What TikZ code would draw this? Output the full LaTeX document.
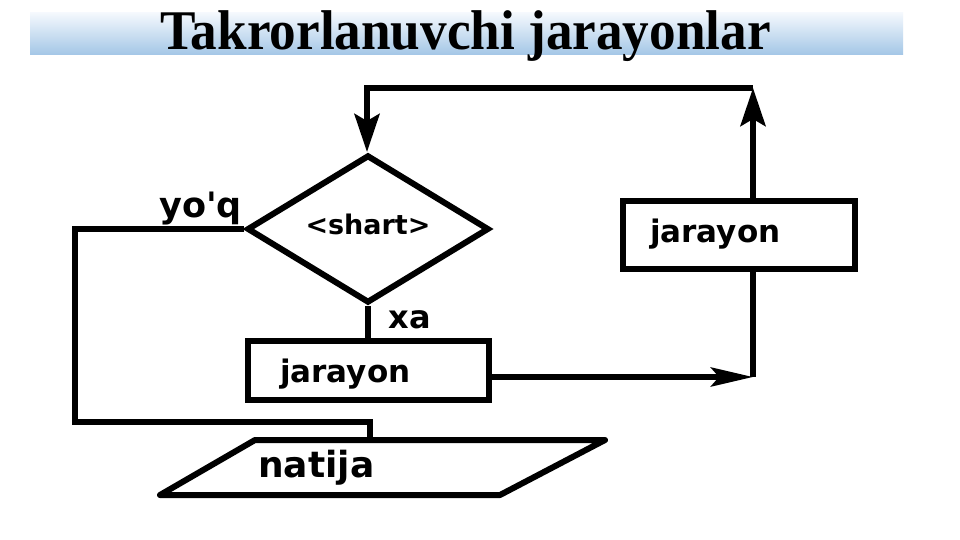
\documentclass[tikz,border=0pt]{standalone}
\usepackage{fontspec}
\usetikzlibrary{arrows.meta,shapes.geometric}
\newfontfamily\titlefont[FakeStretch=0.95]{Liberation Serif}
\newfontfamily\lblfont[Ligatures=TeXOff]{DejaVu Sans}
\definecolor{bannertop}{RGB}{244,248,253}
\definecolor{bannerbot}{RGB}{163,198,230}
\begin{document}
\begin{tikzpicture}[x=1pt,y=-1pt,
  flow/.style={line width=6pt},
  arr/.style={-{Stealth[length=38pt,width=25pt,inset=7pt]}},
  harr/.style={-{Stealth[length=42pt,width=19pt,inset=8pt]}},
  proc/.style={draw,rectangle,line width=6pt,inner xsep=0pt,align=left,
    font=\lblfont\bfseries\fontsize{31}{34}\selectfont},
  dec/.style={draw,diamond,line width=6pt,inner sep=0pt,
    font=\lblfont\bfseries\fontsize{27}{30}\selectfont},
  lbl/.style={inner sep=0pt,font=\lblfont\bfseries\fontsize{35}{38}\selectfont}]
\fill[white] (0,0) rectangle (960,540);
\useasboundingbox (0,0) rectangle (960,540);
% title banner
\shade[top color=bannertop,bottom color=bannerbot] (30,13) rectangle (903,55);
\node[anchor=base,inner sep=0pt,font=\titlefont\bfseries\fontsize{56}{60}\selectfont] (title) at (465.5,50) {Takrorlanuvchi jarayonlar};
% shapes
\node[dec,minimum width=242pt,minimum height=148pt,text height=10pt,text depth=0pt] (d) at (368,229) {<shart>};
\node[proc,minimum width=241pt,minimum height=59pt,text width=177pt,text height=26.5pt,text depth=3.5pt] (j1) at (368.5,370.5) {jarayon};
\node[proc,minimum width=232pt,minimum height=68pt,text width=178pt,text height=20pt,text depth=6pt] (j2) at (739,235) {jarayon};
\draw[flow,line join=round] (160,495) -- (255,440) -- (605,440) -- (500,495) -- cycle;
\node[lbl,anchor=base west,font=\lblfont\bfseries\fontsize{36}{40}\selectfont] (nt) at (258,477) {natija};
% coordinates
\coordinate (cA) at (753,377);
\coordinate (cB) at (753,88);
\coordinate (cC) at (367,88);
\coordinate (cD) at (75,229);
\coordinate (cE) at (75,422);
\coordinate (cF) at (370,422);
\coordinate (ntop) at (370,440);
% connectors
\draw[flow,harr] ([yshift=-6.5pt]j1.east) -- (cA);
\draw[flow] (cA) -- (cA |- j2.south);
\draw[flow,arr] (cA |- j2.north) -- (cB);
\draw[flow,arr] (cB) -- (cC) -- (cC |- d.north);
\draw[flow] (d.south) -- (d.south |- j1.north);
\draw[flow] (d.west) -- (cD) -- (cE) -- (cF) -- (ntop);
% labels
\node[lbl,anchor=base] (yq) at (200.5,217) {yo'q};
\node[lbl,anchor=base,font=\lblfont\bfseries\fontsize{32}{36}\selectfont] (xa) at (409.5,328) {xa};
\end{tikzpicture}
\end{document}
